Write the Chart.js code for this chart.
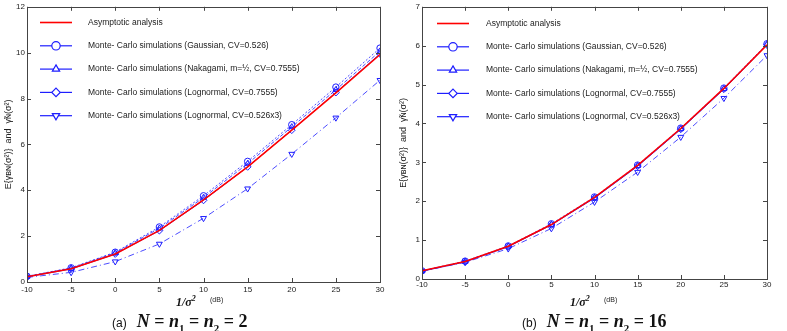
<!DOCTYPE html>
<html lang="en">
<head>
  <meta charset="UTF-8">
  <title>Asymptotic analysis vs Monte-Carlo</title>
  <script src="https://cdn.jsdelivr.net/npm/chart.js"></script>
  <style>
    body { margin: 0; background: #fff; width: 787px; height: 331px; overflow: hidden; position: relative; font-family: "Liberation Sans", Arial, sans-serif; }
    .box { position: absolute; top: 0; height: 312px; }
    .xt { position: absolute; top: 294px; font-family: "Liberation Serif", serif; font-weight: bold; font-style: italic; font-size: 12px; color: #111; }
    .db { position: absolute; top: 296px; font-size: 7px; color: #222; }
    .cap { position: absolute; top: 311px; font-size: 12px; color: #111; white-space: nowrap; }
    .cap .m { font-family: "Liberation Serif", serif; font-weight: bold; font-size: 18px; margin-left: 10px; }
    .cap sub { font-size: 11px; }
  </style>
</head>
<body>
<div class="box" style="left:0;width:393px"><canvas id="chartA" width="393" height="312"></canvas></div>
<div class="box" style="left:395px;width:392px"><canvas id="chartB" width="392" height="312"></canvas></div>

<span class="xt" style="left:176px">1/σ<sup style="font-size:8px">2</sup></span>
<span class="db" style="left:210px">(dB)</span>
<span class="xt" style="left:570px">1/σ<sup style="font-size:8px">2</sup></span>
<span class="db" style="left:604px">(dB)</span>

<div class="cap" style="left:112px">(a)<span class="m"><i>N</i> = <i>n</i><sub>1</sub> = <i>n</i><sub>2</sub> = 2</span></div>
<div class="cap" style="left:522px">(b)<span class="m"><i>N</i> = <i>n</i><sub>1</sub> = <i>n</i><sub>2</sub> = 16</span></div>

<script>
  // x values (dB)
  const snr = [-10, -5, 0, 5, 10, 15, 20, 25, 30];

  // (a) N = 2
  const aAsym   = [0.23, 0.58, 1.22, 2.25, 3.58, 5.02, 6.62, 8.25, 9.92];
  const aGauss  = [0.25, 0.62, 1.30, 2.40, 3.76, 5.26, 6.86, 8.50, 10.20];
  const aNaka   = [0.24, 0.60, 1.27, 2.34, 3.68, 5.16, 6.76, 8.38, 10.06];
  const aLogn   = [0.22, 0.57, 1.22, 2.24, 3.56, 5.02, 6.62, 8.26, 9.95];
  const aLogn3  = [0.20, 0.42, 0.89, 1.66, 2.78, 4.07, 5.58, 7.16, 8.80];

  // (b) N = 16
  const bAsym   = [0.21, 0.45, 0.84, 1.40, 2.10, 2.92, 3.87, 4.90, 6.02];
  const bGauss  = [0.21, 0.46, 0.85, 1.42, 2.11, 2.93, 3.88, 4.91, 6.05];
  const bNaka   = [0.21, 0.45, 0.84, 1.40, 2.09, 2.91, 3.86, 4.89, 6.03];
  const bLogn   = [0.20, 0.44, 0.83, 1.39, 2.08, 2.90, 3.85, 4.88, 6.02];
  const bLogn3  = [0.20, 0.43, 0.78, 1.30, 1.98, 2.75, 3.65, 4.65, 5.75];

  const labels = [
    "Asymptotic analysis",
    "Monte- Carlo simulations (Gaussian, CV=0.526)",
    "Monte- Carlo simulations (Nakagami, m=½, CV=0.7555)",
    "Monte- Carlo simulations (Lognormal, CV=0.7555)",
    "Monte- Carlo simulations (Lognormal, CV=0.526x3)"
  ];

  const blue = "rgb(30,30,255)";
  const styles = [
    { color: "#ff0000", width: 1.6, dash: [], point: false },
    { color: blue, width: 0.8, dash: [2, 2], point: "circle", rot: 0, r: 3.2 },
    { color: blue, width: 0.8, dash: [4, 2], point: "triangle", rot: 0, r: 3.4 },
    { color: blue, width: 0.9, dash: [], point: "rectRot", rot: 0, r: 3.4 },
    { color: blue, width: 0.8, dash: [6, 3, 1, 3], point: "triangle", rot: 180, r: 3.4 }
  ];

  const makeSets = (series) => series.map((vals, i) => {
    const s = styles[i];
    return {
      label: labels[i],
      data: snr.map((x, k) => ({ x: x, y: vals[k] })),
      borderColor: s.color,
      borderWidth: s.width,
      borderDash: s.dash,
      backgroundColor: "rgba(255,255,255,0)",
      pointStyle: s.point,
      pointRotation: s.rot || 0,
      pointRadius: s.point ? s.r : 0,
      pointBorderWidth: 1,
      pointBorderColor: s.color,
      pointBackgroundColor: "rgba(255,255,255,0)",
      tension: 0,
      order: i === 0 ? 0 : 1
    };
  });

  // box, inward ticks and in-plot legend
  const matlabLook = {
    id: "matlabLook",
    afterDatasetsDraw(chart, args, opts) {
      const ctx = chart.ctx;
      const a = chart.chartArea;
      const xs = chart.scales.x, ys = chart.scales.y;
      ctx.save();
      ctx.strokeStyle = "#444";
      ctx.lineWidth = 1;
      ctx.setLineDash([]);
      ctx.strokeRect(Math.round(a.left) + 0.5, Math.round(a.top) + 0.5, Math.round(a.right - a.left), Math.round(a.bottom - a.top));
      ctx.beginPath();
      xs.ticks.forEach(t => {
        const px = Math.round(xs.getPixelForValue(t.value)) + 0.5;
        ctx.moveTo(px, a.bottom); ctx.lineTo(px, a.bottom - 4);
        ctx.moveTo(px, a.top); ctx.lineTo(px, a.top + 4);
      });
      ys.ticks.forEach(t => {
        const py = Math.round(ys.getPixelForValue(t.value)) + 0.5;
        ctx.moveTo(a.left, py); ctx.lineTo(a.left + 4, py);
        ctx.moveTo(a.right, py); ctx.lineTo(a.right - 4, py);
      });
      ctx.stroke();

      // legend
      const lx = a.left + opts.dx, tx = a.left + opts.tx;
      chart.data.datasets.forEach((ds, i) => {
        const y = a.top + opts.dy + i * 23.3;
        ctx.strokeStyle = ds.borderColor;
        ctx.lineWidth = i === 0 ? 1.6 : 1.2;
        ctx.beginPath();
        ctx.moveTo(lx, y); ctx.lineTo(lx + 32, y);
        ctx.stroke();
        if (ds.pointStyle) {
          ctx.lineWidth = 1.2;
          ctx.fillStyle = "#fff";
          Chart.helpers.drawPoint(ctx, { pointStyle: ds.pointStyle, rotation: ds.pointRotation, radius: 4.2, borderWidth: 1.2 }, lx + 16, y);
        }
        ctx.fillStyle = "#222";
        ctx.font = "8.5px 'Liberation Sans', Arial, sans-serif";
        ctx.textBaseline = "middle";
        ctx.fillText(ds.label, tx, y);
      });
      ctx.restore();
    }
  };

  const yTitle = "E{γ\u0299\u0274(σ²)}  and  γ\u0303\u0274(σ²)";

  function build(id, series, yMax, yStep, pad, legendPos) {
    return new Chart(document.getElementById(id), {
      type: "line",
      data: { datasets: makeSets(series) },
      plugins: [matlabLook],
      options: {
        responsive: false,
        animation: false,
        layout: { padding: pad },
        plugins: {
          legend: { display: false },
          tooltip: { enabled: false },
          matlabLook: legendPos
        },
        scales: {
          x: {
            type: "linear", min: -10, max: 30,
            ticks: { stepSize: 5, padding: pad.tp, color: "#222", font: { size: 8, family: "Liberation Sans" } },
            grid: { display: false, drawTicks: false },
            border: { display: false },
            afterFit: s => { s.height = pad.xh; }
          },
          y: {
            min: 0, max: yMax,
            ticks: { stepSize: yStep, padding: 2, color: "#222", font: { size: 8, family: "Liberation Sans" } },
            grid: { display: false, drawTicks: false },
            border: { display: false },
            title: { display: true, text: yTitle, color: "#222", padding: { top: 3, bottom: 0 }, font: { size: 9, family: "Liberation Sans" } },
            afterFit: s => { s.width = 27; }
          }
        }
      }
    });
  }

  build("chartA", [aAsym, aGauss, aNaka, aLogn, aLogn3], 12, 2,
    { left: 0, right: 13, top: 5, bottom: 0, xh: 30, tp: 3 }, { dx: 13, tx: 61, dy: 15.7 });
  build("chartB", [bAsym, bGauss, bNaka, bLogn, bLogn3], 7, 1,
    { left: 0, right: 20, top: 4, bottom: 0, xh: 33, tp: 1 }, { dx: 15, tx: 64, dy: 16.7 });
</script>
</body>
</html>
